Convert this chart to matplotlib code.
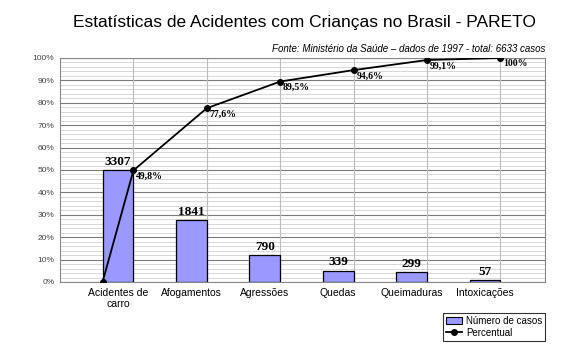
import numpy as np
import matplotlib.pyplot as plt
from matplotlib.lines import Line2D
from matplotlib.patches import Patch

categorias = ["Acidentes de\ncarro", "Afogamentos", "Agressões", "Quedas", "Queimaduras", "Intoxicações"]
casos = [3307, 1841, 790, 339, 299, 57]
total = 6633
acumulado = [49.8, 77.6, 89.5, 94.6, 99.1, 100]
rotulos_pct = ["49,8%", "77,6%", "89,5%", "94,6%", "99,1%", "100%"]

plt.rcParams["font.family"] = ["Liberation Sans", "DejaVu Sans"]

fig = plt.figure(figsize=(5.67, 3.62), dpi=100)
ax = fig.add_axes([60 / 567, 80 / 362, 485 / 567, 224 / 362])

larg = 0.42
x_dir = np.arange(1, len(casos) + 1)
pct_barras = np.array(casos) / total * 100

# grade
for y in np.arange(0, 101, 2):
    ax.axhline(y, color="#c8c8c8", lw=0.5, zorder=0)
for y in np.arange(0, 101, 10):
    ax.axhline(y, color="#7a7a7a", lw=0.8, zorder=0)
for x in x_dir:
    ax.axvline(x, color="#bdbdbd", lw=0.8, zorder=0)

ax.bar(x_dir - larg, pct_barras, width=larg, align="edge", color="#9999ff",
       edgecolor="black", lw=0.9, zorder=2)

for xi, p, n in zip(x_dir, pct_barras, casos):
    ax.text(xi - larg / 2, p + 1, str(n), ha="center", va="bottom",
            fontfamily="Liberation Serif", fontweight="bold", fontsize=9.5)

lx = [x_dir[0] - larg] + list(x_dir)
ly = [0] + acumulado
ax.plot(lx, ly, color="black", lw=1.3, marker="o", ms=4, zorder=3)
for xi, yi, r in zip(x_dir, acumulado, rotulos_pct):
    ax.annotate(r, (xi, yi), xytext=(2, -1), textcoords="offset points",
                ha="left", va="top", fontfamily="Liberation Serif",
                fontweight="bold", fontsize=7)

ax.set_xlim(0, 485 / 73.4)
ax.set_ylim(0, 100)
ax.set_yticks(np.arange(0, 101, 10))
ax.set_yticklabels([f"{v}%" for v in range(0, 101, 10)], fontsize=6, color="#444444")
ax.set_xticks(x_dir - larg / 2)
ax.set_xticklabels(categorias, fontsize=7.5)
ax.tick_params(length=0, pad=4)
for s in ax.spines.values():
    s.set_color("#888888")
    s.set_linewidth(0.8)

fig.text(304 / 567, 1 - 22 / 362, "Estatísticas de Acidentes com Crianças no Brasil - PARETO",
         ha="center", va="center", fontsize=12.5)
fig.text(545 / 567, 1 - 49 / 362, "Fonte: Ministério da Saúde – dados de 1997 - total: 6633 casos",
         ha="right", va="center", fontsize=7, style="italic")

handles = [Patch(facecolor="#9999ff", edgecolor="black", lw=0.8),
           Line2D([], [], color="black", lw=1.3, marker="o", ms=4)]
leg = fig.legend(handles, ["Número de casos", "Percentual"], loc="upper right",
                 bbox_to_anchor=(545 / 567, 1 - 313 / 362), fontsize=7, frameon=True,
                 fancybox=False, edgecolor="black", handlelength=1.6,
                 handleheight=0.7, borderpad=0.3, labelspacing=0.2, handletextpad=0.4,
                 borderaxespad=0)
leg.get_frame().set_linewidth(0.8)

fig.savefig("out.png", dpi=100)
